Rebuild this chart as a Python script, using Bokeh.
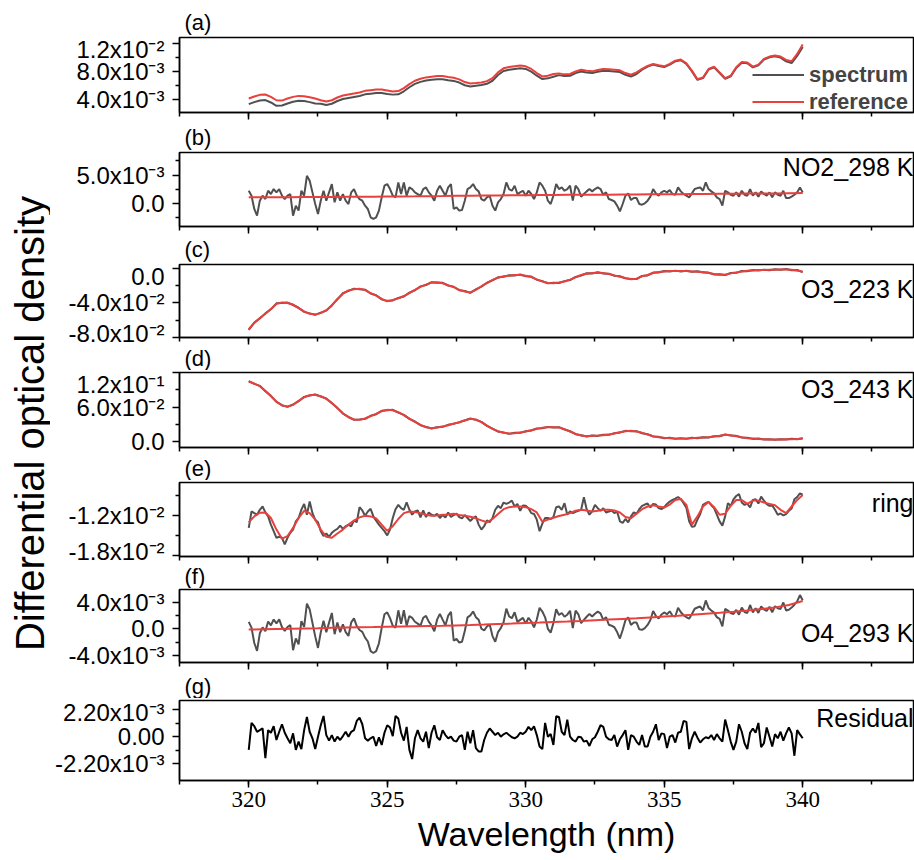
import numpy as np
from bokeh.plotting import figure
from bokeh.layouts import row, column
from bokeh.models import (Range1d, FixedTicker, SingleIntervalTicker,
                          CustomJSTickFormatter, Label)
from bokeh.core.properties import value
from bokeh.embed import file_html
from bokeh.resources import INLINE

# ---------------- wavelength grids (nm) ----------------
wl_fine = [
    320.0, 320.1, 320.2, 320.3, 320.4, 320.5, 320.6, 320.7, 320.8, 320.9,
    321.0, 321.1, 321.2, 321.3, 321.4, 321.5, 321.6, 321.7, 321.8, 321.9,
    322.0, 322.1, 322.2, 322.3, 322.4, 322.5, 322.6, 322.7, 322.8, 322.9,
    323.0, 323.1, 323.2, 323.3, 323.4, 323.5, 323.6, 323.7, 323.8, 323.9,
    324.0, 324.1, 324.2, 324.3, 324.4, 324.5, 324.6, 324.7, 324.8, 324.9,
    325.0, 325.1, 325.2, 325.3, 325.4, 325.5, 325.6, 325.7, 325.8, 325.9,
    326.0, 326.1, 326.2, 326.3, 326.4, 326.5, 326.6, 326.7, 326.8, 326.9,
    327.0, 327.1, 327.2, 327.3, 327.4, 327.5, 327.6, 327.7, 327.8, 327.9,
    328.0, 328.1, 328.2, 328.3, 328.4, 328.5, 328.6, 328.7, 328.8, 328.9,
    329.0, 329.1, 329.2, 329.3, 329.4, 329.5, 329.6, 329.7, 329.8, 329.9,
    330.0, 330.1, 330.2, 330.3, 330.4, 330.5, 330.6, 330.7, 330.8, 330.9,
    331.0, 331.1, 331.2, 331.3, 331.4, 331.5, 331.6, 331.7, 331.8, 331.9,
    332.0, 332.1, 332.2, 332.3, 332.4, 332.5, 332.6, 332.7, 332.8, 332.9,
    333.0, 333.1, 333.2, 333.3, 333.4, 333.5, 333.6, 333.7, 333.8, 333.9,
    334.0, 334.1, 334.2, 334.3, 334.4, 334.5, 334.6, 334.7, 334.8, 334.9,
    335.0, 335.1, 335.2, 335.3, 335.4, 335.5, 335.6, 335.7, 335.8, 335.9,
    336.0, 336.1, 336.2, 336.3, 336.4, 336.5, 336.6, 336.7, 336.8, 336.9,
    337.0, 337.1, 337.2, 337.3, 337.4, 337.5, 337.6, 337.7, 337.8, 337.9,
    338.0, 338.1, 338.2, 338.3, 338.4, 338.5, 338.6, 338.7, 338.8, 338.9,
    339.0, 339.1, 339.2, 339.3, 339.4, 339.5, 339.6, 339.7, 339.8, 339.9,
    340.0]

wl_coarse = [
    320.0, 320.2, 320.4, 320.6, 320.8, 321.0, 321.2, 321.4, 321.6, 321.8,
    322.0, 322.2, 322.4, 322.6, 322.8, 323.0, 323.2, 323.4, 323.6, 323.8,
    324.0, 324.2, 324.4, 324.6, 324.8, 325.0, 325.2, 325.4, 325.6, 325.8,
    326.0, 326.2, 326.4, 326.6, 326.8, 327.0, 327.2, 327.4, 327.6, 327.8,
    328.0, 328.2, 328.4, 328.6, 328.8, 329.0, 329.2, 329.4, 329.6, 329.8,
    330.0, 330.2, 330.4, 330.6, 330.8, 331.0, 331.2, 331.4, 331.6, 331.8,
    332.0, 332.2, 332.4, 332.6, 332.8, 333.0, 333.2, 333.4, 333.6, 333.8,
    334.0, 334.2, 334.4, 334.6, 334.8, 335.0, 335.2, 335.4, 335.6, 335.8,
    336.0, 336.2, 336.4, 336.6, 336.8, 337.0, 337.2, 337.4, 337.6, 337.8,
    338.0, 338.2, 338.4, 338.6, 338.8, 339.0, 339.2, 339.4, 339.6, 339.8,
    340.0]

wl_half = [
    320.0, 320.5, 321.0, 321.5, 322.0, 322.5, 323.0, 323.5, 324.0, 324.5,
    325.0, 325.5, 326.0, 326.5, 327.0, 327.5, 328.0, 328.5, 329.0, 329.5,
    330.0, 330.5, 331.0, 331.5, 332.0, 332.5, 333.0, 333.5, 334.0, 334.5,
    335.0, 335.5, 336.0, 336.5, 337.0, 337.5, 338.0, 338.5, 339.0, 339.5,
    340.0]

# ---------------- (a) spectrum / reference ----------------
a_spectrum = [
    3.39e-3, 3.68e-3, 3.92e-3, 3.97e-3, 3.63e-3, 3.15e-3, 3.20e-3, 3.49e-3, 3.73e-3, 3.87e-3,
    3.83e-3, 3.68e-3, 3.49e-3, 3.45e-3, 3.26e-3, 3.45e-3, 3.84e-3, 4.12e-3, 4.27e-3, 4.41e-3,
    4.55e-3, 4.79e-3, 4.89e-3, 4.98e-3, 4.98e-3, 4.84e-3, 4.75e-3, 4.80e-3, 5.23e-3, 5.80e-3,
    6.28e-3, 6.57e-3, 6.76e-3, 6.86e-3, 6.95e-3, 6.95e-3, 6.81e-3, 6.71e-3, 6.47e-3, 6.09e-3,
    5.90e-3, 6.02e-3, 6.11e-3, 6.30e-3, 6.73e-3, 7.55e-3, 8.12e-3, 8.31e-3, 8.41e-3, 8.51e-3,
    8.41e-3, 8.03e-3, 7.45e-3, 6.97e-3, 7.07e-3, 7.31e-3, 7.53e-3, 7.39e-3, 7.44e-3, 7.82e-3,
    8.06e-3, 7.92e-3, 7.82e-3, 8.01e-3, 8.16e-3, 8.11e-3, 8.06e-3, 7.97e-3, 7.58e-3, 7.34e-3,
    7.68e-3, 8.31e-3, 8.74e-3, 9.03e-3, 8.83e-3, 8.69e-3, 9.03e-3, 9.50e-3, 9.65e-3, 9.12e-3,
    8.07e-3, 6.85e-3, 7.10e-3, 8.31e-3, 8.64e-3, 7.83e-3, 7.01e-3, 7.35e-3, 8.55e-3, 9.31e-3,
    9.22e-3, 8.64e-3, 8.93e-3, 9.74e-3, 10.08e-3, 10.22e-3, 10.03e-3, 9.50e-3, 9.26e-3, 10.26e-3,
    11.55e-3]
a_reference = [
    4.19e-3, 4.48e-3, 4.72e-3, 4.77e-3, 4.43e-3, 3.95e-3, 3.90e-3, 4.19e-3, 4.43e-3, 4.57e-3,
    4.53e-3, 4.38e-3, 4.19e-3, 3.95e-3, 3.76e-3, 3.95e-3, 4.34e-3, 4.62e-3, 4.77e-3, 4.91e-3,
    5.05e-3, 5.29e-3, 5.39e-3, 5.48e-3, 5.48e-3, 5.34e-3, 5.20e-3, 5.25e-3, 5.68e-3, 6.25e-3,
    6.73e-3, 7.02e-3, 7.21e-3, 7.31e-3, 7.40e-3, 7.40e-3, 7.26e-3, 7.16e-3, 6.92e-3, 6.54e-3,
    6.35e-3, 6.40e-3, 6.49e-3, 6.68e-3, 7.11e-3, 7.93e-3, 8.50e-3, 8.69e-3, 8.79e-3, 8.89e-3,
    8.79e-3, 8.41e-3, 7.83e-3, 7.35e-3, 7.45e-3, 7.69e-3, 7.78e-3, 7.64e-3, 7.69e-3, 8.07e-3,
    8.31e-3, 8.17e-3, 8.07e-3, 8.26e-3, 8.41e-3, 8.36e-3, 8.31e-3, 8.22e-3, 7.83e-3, 7.59e-3,
    7.93e-3, 8.41e-3, 8.84e-3, 9.13e-3, 8.93e-3, 8.79e-3, 9.13e-3, 9.60e-3, 9.75e-3, 9.22e-3,
    8.17e-3, 6.95e-3, 7.20e-3, 8.41e-3, 8.74e-3, 7.93e-3, 7.11e-3, 7.45e-3, 8.65e-3, 9.41e-3,
    9.32e-3, 8.74e-3, 9.03e-3, 9.84e-3, 10.18e-3, 10.32e-3, 10.18e-3, 9.70e-3, 9.51e-3, 10.56e-3,
    11.90e-3]

# ---------------- (b) NO2_298 K ----------------
no2_spectrum = [
    2.23e-3, 1.35e-3, -1.00e-3, -2.18e-3, 0.47e-3, 1.35e-3, 0.76e-3, 2.23e-3, 1.65e-3, 2.53e-3,
    1.94e-3, 2.53e-3, 1.35e-3, 0.76e-3, 1.35e-3, 1.65e-3, -2.18e-3, -0.41e-3, -1.29e-3, 2.23e-3,
    1.35e-3, 4.88e-3, 4.00e-3, 1.94e-3, -0.12e-3, -1.88e-3, 0.47e-3, 2.23e-3, 0.47e-3, 1.94e-3,
    3.41e-3, 0.18e-3, 1.94e-3, 0.47e-3, 1.65e-3, 0.47e-3, -0.12e-3, 1.94e-3, 2.53e-3, 1.35e-3,
    0.76e-3, 0.47e-3, -0.41e-3, -1.00e-3, -2.47e-3, -2.76e-3, -2.47e-3, -1.29e-3, 1.06e-3, 3.12e-3,
    3.41e-3, 2.53e-3, 1.35e-3, 1.06e-3, 3.70e-3, 1.65e-3, 3.70e-3, 1.35e-3, 2.82e-3, 2.53e-3,
    1.94e-3, 1.65e-3, 1.35e-3, 2.53e-3, 2.82e-3, 1.94e-3, 1.35e-3, 0.47e-3, 2.23e-3, 3.12e-3,
    2.23e-3, 1.35e-3, 2.82e-3, 3.41e-3, -1.00e-3, -0.71e-3, -1.29e-3, -1.18e-3, 0.47e-3, 2.53e-3,
    2.82e-3, 3.41e-3, 2.53e-3, 2.12e-3, 0.76e-3, 0.47e-3, 1.06e-3, 1.35e-3, -0.41e-3, -1.29e-3,
    0.18e-3, 0.76e-3, 1.65e-3, 3.70e-3, 2.53e-3, 2.23e-3, 3.12e-3, 1.65e-3, 1.94e-3, 2.23e-3,
    1.35e-3, 2.23e-3, 1.65e-3, 0.76e-3, 1.94e-3, 3.70e-3, 3.12e-3, 2.23e-3, 0.47e-3, -0.12e-3,
    1.35e-3, 3.41e-3, 2.53e-3, 2.82e-3, 2.23e-3, 2.53e-3, 3.12e-3, 0.47e-3, 3.12e-3, 2.53e-3,
    1.18e-3, 1.65e-3, 2.12e-3, 2.53e-3, 2.12e-3, 2.53e-3, 2.82e-3, 2.53e-3, 1.53e-3, 1.94e-3,
    0.76e-3, 0.59e-3, 0.35e-3, -0.41e-3, -1.41e-3, -0.12e-3, 1.35e-3, 1.76e-3, 0.59e-3, 0.94e-3,
    0.94e-3, -0.12e-3, -0.24e-3, 0.00e-3, 0.47e-3, 1.18e-3, 2.53e-3, 1.76e-3, 1.35e-3, 1.94e-3,
    2.23e-3, 1.94e-3, 2.35e-3, 1.65e-3, 1.53e-3, 2.82e-3, 2.12e-3, 1.65e-3, 1.35e-3, 1.06e-3,
    1.76e-3, 2.53e-3, 2.70e-3, 2.82e-3, 2.23e-3, 3.70e-3, 2.53e-3, 2.12e-3, 1.76e-3, 1.06e-3,
    0.76e-3, -0.41e-3, 2.23e-3, 1.94e-3, 1.53e-3, 1.35e-3, 1.94e-3, 1.18e-3, 2.23e-3, 1.53e-3,
    1.35e-3, 2.53e-3, 1.35e-3, 1.94e-3, 1.18e-3, 2.12e-3, 1.65e-3, 1.35e-3, 1.94e-3, 1.06e-3,
    1.94e-3, 1.53e-3, 1.35e-3, 2.23e-3, 0.94e-3, 0.94e-3, 1.18e-3, 1.53e-3, 1.94e-3, 2.82e-3,
    1.94e-3]
no2_fit = [
    1.06e-3, 1.07e-3, 1.08e-3, 1.10e-3, 1.11e-3, 1.12e-3, 1.14e-3, 1.15e-3, 1.17e-3, 1.18e-3,
    1.20e-3, 1.22e-3, 1.24e-3, 1.27e-3, 1.30e-3, 1.34e-3, 1.36e-3, 1.38e-3, 1.40e-3, 1.42e-3,
    1.44e-3, 1.46e-3, 1.48e-3, 1.50e-3, 1.51e-3, 1.53e-3, 1.54e-3, 1.56e-3, 1.57e-3, 1.59e-3,
    1.60e-3, 1.62e-3, 1.64e-3, 1.66e-3, 1.68e-3, 1.70e-3, 1.72e-3, 1.74e-3, 1.76e-3, 1.79e-3,
    1.82e-3]

# ---------------- (c) O3_223 K ----------------
o3_223_spectrum = [
    -0.0712, -0.0628, -0.0580, -0.0521, -0.0474, -0.0405, -0.0401, -0.0396, -0.0424, -0.0456,
    -0.0504, -0.0521, -0.0538, -0.0513, -0.0489, -0.0426, -0.0359, -0.0288, -0.0260, -0.0236,
    -0.0241, -0.0246, -0.0291, -0.0311, -0.0359, -0.0376, -0.0371, -0.0342, -0.0325, -0.0281,
    -0.0253, -0.0208, -0.0192, -0.0159, -0.0165, -0.0166, -0.0199, -0.0212, -0.0253, -0.0262,
    -0.0283, -0.0243, -0.0211, -0.0166, -0.0138, -0.0102, -0.0096, -0.0079, -0.0081, -0.0071,
    -0.0089, -0.0094, -0.0131, -0.0147, -0.0173, -0.0166, -0.0169, -0.0147, -0.0135, -0.0098,
    -0.0081, -0.0056, -0.0058, -0.0045, -0.0058, -0.0060, -0.0085, -0.0090, -0.0115, -0.0121,
    -0.0123, -0.0086, -0.0081, -0.0048, -0.0047, -0.0029, -0.0035, -0.0025, -0.0035, -0.0026,
    -0.0039, -0.0033, -0.0047, -0.0048, -0.0070, -0.0067, -0.0077, -0.0052, -0.0051, -0.0029,
    -0.0032, -0.0018, -0.0024, -0.0014, -0.0020, -0.0010, -0.0016, -0.0006, -0.0020, -0.0018,
    -0.0043]
o3_223_fit = [
    -0.0705, -0.0632, -0.0575, -0.0526, -0.0469, -0.0411, -0.0396, -0.0400, -0.0419, -0.0461,
    -0.0499, -0.0526, -0.0533, -0.0518, -0.0484, -0.0431, -0.0354, -0.0293, -0.0255, -0.0240,
    -0.0236, -0.0251, -0.0286, -0.0316, -0.0354, -0.0381, -0.0366, -0.0347, -0.0320, -0.0286,
    -0.0248, -0.0213, -0.0187, -0.0164, -0.0160, -0.0171, -0.0194, -0.0217, -0.0248, -0.0267,
    -0.0278, -0.0248, -0.0206, -0.0171, -0.0133, -0.0107, -0.0091, -0.0084, -0.0076, -0.0076,
    -0.0084, -0.0099, -0.0126, -0.0152, -0.0168, -0.0171, -0.0164, -0.0152, -0.0130, -0.0103,
    -0.0076, -0.0061, -0.0053, -0.0050, -0.0053, -0.0065, -0.0080, -0.0095, -0.0110, -0.0126,
    -0.0118, -0.0091, -0.0076, -0.0053, -0.0042, -0.0034, -0.0030, -0.0030, -0.0030, -0.0030,
    -0.0034, -0.0038, -0.0042, -0.0053, -0.0065, -0.0072, -0.0072, -0.0057, -0.0046, -0.0034,
    -0.0027, -0.0023, -0.0019, -0.0019, -0.0015, -0.0015, -0.0011, -0.0011, -0.0015, -0.0023,
    -0.0038]

# ---------------- (d) O3_243 K ----------------
o3_243_spectrum = [
    0.1051, 0.1003, 0.0969, 0.0876, 0.0795, 0.0690, 0.0632, 0.0603, 0.0644, 0.0702,
    0.0777, 0.0800, 0.0818, 0.0783, 0.0748, 0.0667, 0.0586, 0.0487, 0.0429, 0.0377,
    0.0383, 0.0394, 0.0447, 0.0475, 0.0534, 0.0545, 0.0551, 0.0504, 0.0464, 0.0394,
    0.0348, 0.0284, 0.0255, 0.0226, 0.0250, 0.0255, 0.0290, 0.0307, 0.0337, 0.0365,
    0.0400, 0.0377, 0.0342, 0.0272, 0.0226, 0.0174, 0.0157, 0.0133, 0.0151, 0.0151,
    0.0180, 0.0191, 0.0226, 0.0232, 0.0255, 0.0243, 0.0250, 0.0209, 0.0180, 0.0127,
    0.0110, 0.0087, 0.0105, 0.0098, 0.0116, 0.0116, 0.0145, 0.0156, 0.0186, 0.0180,
    0.0180, 0.0145, 0.0128, 0.0087, 0.0081, 0.0058, 0.0064, 0.0046, 0.0058, 0.0046,
    0.0064, 0.0058, 0.0076, 0.0069, 0.0093, 0.0093, 0.0122, 0.0104, 0.0099, 0.0069,
    0.0064, 0.0046, 0.0052, 0.0035, 0.0041, 0.0029, 0.0041, 0.0035, 0.0047, 0.0040,
    0.0058]
o3_243_fit = [
    0.1044, 0.1009, 0.0963, 0.0882, 0.0789, 0.0696, 0.0626, 0.0609, 0.0638, 0.0708,
    0.0771, 0.0806, 0.0812, 0.0789, 0.0742, 0.0673, 0.0580, 0.0493, 0.0423, 0.0383,
    0.0377, 0.0400, 0.0441, 0.0481, 0.0528, 0.0551, 0.0545, 0.0510, 0.0458, 0.0400,
    0.0342, 0.0290, 0.0249, 0.0232, 0.0244, 0.0261, 0.0284, 0.0313, 0.0331, 0.0371,
    0.0394, 0.0383, 0.0336, 0.0278, 0.0220, 0.0180, 0.0151, 0.0139, 0.0145, 0.0157,
    0.0174, 0.0197, 0.0220, 0.0238, 0.0249, 0.0249, 0.0244, 0.0215, 0.0174, 0.0133,
    0.0104, 0.0093, 0.0099, 0.0104, 0.0110, 0.0122, 0.0139, 0.0162, 0.0180, 0.0186,
    0.0174, 0.0151, 0.0122, 0.0093, 0.0075, 0.0064, 0.0058, 0.0052, 0.0052, 0.0052,
    0.0058, 0.0064, 0.0070, 0.0075, 0.0087, 0.0099, 0.0116, 0.0110, 0.0093, 0.0075,
    0.0058, 0.0052, 0.0046, 0.0041, 0.0035, 0.0035, 0.0035, 0.0041, 0.0041, 0.0046,
    0.0052]

# ---------------- (e) ring ----------------
ring_spectrum = [
    -13.82e-3, -11.36e-3, -11.61e-3, -11.85e-3, -11.11e-3, -10.62e-3, -11.51e-3, -12.10e-3, -13.33e-3, -14.31e-3,
    -15.30e-3, -15.15e-3, -15.30e-3, -16.28e-3, -15.30e-3, -14.56e-3, -14.07e-3, -12.84e-3, -12.34e-3, -11.11e-3,
    -10.23e-3, -11.85e-3, -9.88e-3, -11.61e-3, -12.59e-3, -12.98e-3, -14.31e-3, -15.05e-3, -14.66e-3, -15.15e-3,
    -14.56e-3, -14.21e-3, -13.97e-3, -13.48e-3, -13.97e-3, -13.57e-3, -13.38e-3, -13.57e-3, -12.69e-3, -12.98e-3,
    -10.72e-3, -11.21e-3, -12.00e-3, -11.36e-3, -10.97e-3, -12.10e-3, -12.74e-3, -13.33e-3, -13.82e-3, -14.31e-3,
    -14.95e-3, -14.07e-3, -12.34e-3, -11.02e-3, -10.38e-3, -10.87e-3, -11.11e-3, -9.98e-3, -11.11e-3, -11.85e-3,
    -11.36e-3, -11.21e-3, -12.25e-3, -11.21e-3, -12.20e-3, -11.51e-3, -11.85e-3, -12.00e-3, -11.70e-3, -12.34e-3,
    -11.90e-3, -12.25e-3, -11.51e-3, -12.20e-3, -11.90e-3, -11.70e-3, -12.20e-3, -12.39e-3, -11.90e-3, -12.34e-3,
    -12.79e-3, -12.34e-3, -12.10e-3, -13.33e-3, -14.07e-3, -13.57e-3, -12.69e-3, -12.98e-3, -12.34e-3, -11.11e-3,
    -10.52e-3, -10.87e-3, -10.03e-3, -10.23e-3, -10.03e-3, -9.74e-3, -10.62e-3, -10.23e-3, -11.26e-3, -10.48e-3,
    -10.52e-3, -10.87e-3, -11.61e-3, -11.75e-3, -12.59e-3, -14.31e-3, -13.18e-3, -12.34e-3, -12.34e-3, -12.49e-3,
    -12.20e-3, -10.72e-3, -10.62e-3, -11.11e-3, -10.13e-3, -11.85e-3, -11.36e-3, -11.61e-3, -11.41e-3, -11.26e-3,
    -11.11e-3, -9.25e-3, -11.02e-3, -11.85e-3, -11.36e-3, -10.38e-3, -10.87e-3, -11.26e-3, -10.87e-3, -11.51e-3,
    -11.36e-3, -11.21e-3, -11.61e-3, -11.41e-3, -12.84e-3, -13.08e-3, -12.49e-3, -12.98e-3, -12.10e-3, -11.51e-3,
    -11.70e-3, -11.02e-3, -10.52e-3, -10.33e-3, -10.18e-3, -10.77e-3, -10.23e-3, -10.33e-3, -10.87e-3, -11.02e-3,
    -10.72e-3, -10.23e-3, -9.88e-3, -9.64e-3, -9.44e-3, -9.20e-3, -9.54e-3, -10.13e-3, -10.82e-3, -12.84e-3,
    -13.67e-3, -13.57e-3, -12.59e-3, -11.75e-3, -10.38e-3, -10.13e-3, -9.93e-3, -10.43e-3, -10.87e-3, -11.85e-3,
    -12.84e-3, -13.48e-3, -12.10e-3, -10.13e-3, -10.52e-3, -9.54e-3, -9.05e-3, -8.75e-3, -10.03e-3, -10.38e-3,
    -10.18e-3, -10.77e-3, -9.64e-3, -9.54e-3, -10.18e-3, -9.15e-3, -9.74e-3, -10.28e-3, -10.52e-3, -10.48e-3,
    -11.11e-3, -11.85e-3, -11.66e-3, -11.95e-3, -11.75e-3, -11.26e-3, -10.92e-3, -9.54e-3, -9.20e-3, -8.66e-3,
    -8.85e-3]
ring_fit = [
    -12.98e-3, -12.10e-3, -11.56e-3, -11.51e-3, -12.34e-3, -14.07e-3, -15.44e-3, -15.05e-3, -13.82e-3, -12.34e-3,
    -11.26e-3, -11.61e-3, -12.59e-3, -14.07e-3, -15.15e-3, -15.30e-3, -14.66e-3, -14.07e-3, -13.33e-3, -12.74e-3,
    -12.25e-3, -12.00e-3, -12.10e-3, -12.39e-3, -13.33e-3, -14.26e-3, -13.57e-3, -12.49e-3, -11.61e-3, -11.36e-3,
    -11.46e-3, -11.61e-3, -11.85e-3, -12.00e-3, -11.95e-3, -11.85e-3, -11.80e-3, -11.70e-3, -11.90e-3, -12.00e-3,
    -12.15e-3, -12.39e-3, -12.69e-3, -12.98e-3, -12.49e-3, -11.75e-3, -11.02e-3, -10.72e-3, -10.62e-3, -10.62e-3,
    -10.72e-3, -11.02e-3, -11.51e-3, -12.89e-3, -12.59e-3, -12.30e-3, -12.05e-3, -11.85e-3, -11.61e-3, -11.26e-3,
    -11.11e-3, -11.21e-3, -11.36e-3, -11.26e-3, -11.11e-3, -11.11e-3, -11.21e-3, -11.51e-3, -12.20e-3, -12.39e-3,
    -11.70e-3, -11.02e-3, -10.62e-3, -10.43e-3, -10.62e-3, -10.77e-3, -10.33e-3, -9.64e-3, -9.49e-3, -10.38e-3,
    -13.33e-3, -12.10e-3, -10.62e-3, -9.93e-3, -10.72e-3, -11.85e-3, -11.70e-3, -10.52e-3, -9.64e-3, -9.64e-3,
    -10.23e-3, -9.74e-3, -9.74e-3, -10.03e-3, -10.23e-3, -10.43e-3, -11.11e-3, -11.61e-3, -10.62e-3, -9.64e-3,
    -8.90e-3]

# ---------------- (f) O4_293 K ----------------
o4_spectrum = [
    1.07e-3, 0.20e-3, -2.14e-3, -3.32e-3, -0.66e-3, 0.23e-3, -0.35e-3, 1.13e-3, 0.55e-3, 1.44e-3,
    0.86e-3, 1.46e-3, 0.28e-3, -0.30e-3, 0.29e-3, 0.60e-3, -3.23e-3, -1.45e-3, -2.33e-3, 1.20e-3,
    0.32e-3, 3.86e-3, 2.98e-3, 0.93e-3, -1.13e-3, -2.88e-3, -0.52e-3, 1.24e-3, -0.51e-3, 0.96e-3,
    2.44e-3, -0.79e-3, 0.98e-3, -0.49e-3, 0.70e-3, -0.48e-3, -1.06e-3, 1.00e-3, 1.60e-3, 0.42e-3,
    -0.16e-3, -0.45e-3, -1.32e-3, -1.91e-3, -3.37e-3, -3.66e-3, -3.37e-3, -2.18e-3, 0.17e-3, 2.24e-3,
    2.53e-3, 1.65e-3, 0.48e-3, 0.19e-3, 2.84e-3, 0.79e-3, 2.84e-3, 0.50e-3, 1.97e-3, 1.69e-3,
    1.10e-3, 0.81e-3, 0.51e-3, 1.70e-3, 1.99e-3, 1.11e-3, 0.52e-3, -0.35e-3, 1.41e-3, 2.30e-3,
    1.41e-3, 0.54e-3, 2.02e-3, 2.61e-3, -1.79e-3, -1.50e-3, -2.07e-3, -1.95e-3, -0.30e-3, 1.77e-3,
    2.06e-3, 2.66e-3, 1.79e-3, 1.39e-3, 0.04e-3, -0.24e-3, 0.37e-3, 0.67e-3, -1.08e-3, -1.95e-3,
    -0.47e-3, 0.12e-3, 1.02e-3, 3.08e-3, 1.92e-3, 1.63e-3, 2.54e-3, 1.08e-3, 1.38e-3, 1.68e-3,
    0.81e-3, 1.70e-3, 1.13e-3, 0.25e-3, 1.44e-3, 3.21e-3, 2.65e-3, 1.77e-3, 0.02e-3, -0.56e-3,
    0.92e-3, 2.99e-3, 2.13e-3, 2.43e-3, 1.86e-3, 2.17e-3, 2.77e-3, 0.14e-3, 2.80e-3, 2.23e-3,
    0.89e-3, 1.38e-3, 1.86e-3, 2.29e-3, 1.90e-3, 2.32e-3, 2.63e-3, 2.36e-3, 1.38e-3, 1.80e-3,
    0.64e-3, 0.49e-3, 0.26e-3, -0.48e-3, -1.46e-3, -0.16e-3, 1.33e-3, 1.76e-3, 0.61e-3, 0.97e-3,
    0.99e-3, -0.05e-3, -0.14e-3, 0.12e-3, 0.61e-3, 1.35e-3, 2.72e-3, 1.97e-3, 1.59e-3, 2.20e-3,
    2.51e-3, 2.24e-3, 2.68e-3, 2.00e-3, 1.90e-3, 3.22e-3, 2.54e-3, 2.09e-3, 1.81e-3, 1.55e-3,
    2.27e-3, 3.07e-3, 3.26e-3, 3.41e-3, 2.84e-3, 4.34e-3, 3.20e-3, 2.81e-3, 2.48e-3, 1.80e-3,
    1.53e-3, 0.39e-3, 3.06e-3, 2.80e-3, 2.42e-3, 2.28e-3, 2.90e-3, 2.17e-3, 3.25e-3, 2.58e-3,
    2.43e-3, 3.65e-3, 2.52e-3, 3.15e-3, 2.44e-3, 3.42e-3, 2.99e-3, 2.74e-3, 3.37e-3, 2.54e-3,
    3.46e-3, 3.14e-3, 3.05e-3, 4.02e-3, 2.82e-3, 2.92e-3, 3.25e-3, 3.69e-3, 4.19e-3, 5.16e-3,
    4.37e-3]
o4_fit = [
    -0.10e-3, -0.05e-3, 0.00e-3, 0.04e-3, 0.08e-3, 0.12e-3, 0.17e-3, 0.21e-3, 0.25e-3, 0.28e-3,
    0.32e-3, 0.36e-3, 0.40e-3, 0.44e-3, 0.48e-3, 0.54e-3, 0.60e-3, 0.67e-3, 0.75e-3, 0.82e-3,
    0.90e-3, 0.97e-3, 1.05e-3, 1.13e-3, 1.22e-3, 1.32e-3, 1.42e-3, 1.52e-3, 1.62e-3, 1.75e-3,
    1.88e-3, 2.01e-3, 2.15e-3, 2.30e-3, 2.45e-3, 2.62e-3, 2.80e-3, 3.02e-3, 3.28e-3, 3.65e-3,
    4.25e-3]

# ---------------- (g) Residual ----------------
residual = [
    -1.07e-3, 1.12e-3, 0.85e-3, 0.40e-3, 0.53e-3, 0.67e-3, -1.74e-3, 0.53e-3, 0.32e-3, 0.85e-3,
    -0.27e-3, 0.40e-3, 1.01e-3, 0.32e-3, -0.13e-3, -0.53e-3, 0.27e-3, -1.07e-3, -0.40e-3, -1.01e-3,
    0.53e-3, 1.60e-3, 0.40e-3, -0.13e-3, -1.01e-3, 0.00e-3, 0.93e-3, 1.68e-3, 0.13e-3, -0.32e-3,
    0.13e-3, -0.40e-3, 0.00e-3, -0.27e-3, 0.05e-3, 0.40e-3, 0.00e-3, 0.40e-3, 0.53e-3, 1.28e-3,
    1.55e-3, 1.01e-3, -0.13e-3, -0.32e-3, -0.13e-3, 0.00e-3, -0.75e-3, -0.05e-3, -0.67e-3, 0.32e-3,
    0.93e-3, 0.75e-3, 0.05e-3, 1.68e-3, 1.47e-3, 0.32e-3, -0.32e-3, 0.80e-3, -1.07e-3, -1.82e-3,
    -0.13e-3, 0.53e-3, -0.13e-3, -0.40e-3, 0.40e-3, -0.93e-3, 0.32e-3, 0.93e-3, -0.05e-3, -0.27e-3,
    0.53e-3, 0.13e-3, -0.13e-3, 0.00e-3, -0.32e-3, -0.40e-3, 0.00e-3, 0.13e-3, -1.07e-3, 0.40e-3,
    -0.53e-3, 0.53e-3, -0.93e-3, -1.20e-3, -1.20e-3, -0.27e-3, 0.32e-3, 0.67e-3, 0.40e-3, 0.13e-3,
    0.32e-3, 0.00e-3, 0.19e-3, 0.32e-3, 0.13e-3, -0.05e-3, -0.13e-3, 0.00e-3, 0.32e-3, 0.21e-3,
    0.40e-3, 0.80e-3, 0.53e-3, 0.85e-3, 0.13e-3, -0.80e-3, -1.01e-3, 1.12e-3, 0.00e-3, 0.21e-3,
    -0.67e-3, 1.66e-3, 1.60e-3, 0.40e-3, 0.13e-3, 1.39e-3, 0.00e-3, -0.27e-3, -0.40e-3, 0.00e-3,
    -0.05e-3, -0.40e-3, -0.32e-3, -0.75e-3, -0.21e-3, -0.05e-3, 0.40e-3, 0.93e-3, 0.80e-3, 0.00e-3,
    -0.21e-3, -0.27e-3, 0.13e-3, -0.80e-3, -0.21e-3, 0.13e-3, 0.53e-3, -1.07e-3, 0.13e-3, 0.00e-3,
    -0.40e-3, -0.67e-3, 0.13e-3, -0.80e-3, -0.80e-3, 0.00e-3, 0.40e-3, 1.01e-3, -0.27e-3, 0.27e-3,
    0.21e-3, -0.93e-3, 0.00e-3, 0.13e-3, -0.48e-3, 0.32e-3, 0.40e-3, 1.28e-3, 1.20e-3, -1.01e-3,
    -0.13e-3, 0.40e-3, -0.08e-3, -0.48e-3, -0.21e-3, -0.05e-3, -0.13e-3, 0.13e-3, -0.27e-3, 0.21e-3,
    -0.13e-3, -0.40e-3, 1.39e-3, 0.53e-3, -0.40e-3, -1.07e-3, -0.40e-3, 1.01e-3, 0.40e-3, -0.53e-3,
    -1.01e-3, 0.32e-3, 0.67e-3, 0.32e-3, 1.12e-3, -0.85e-3, -0.53e-3, 0.75e-3, 0.00e-3, -0.80e-3,
    0.21e-3, -0.13e-3, 0.40e-3, -0.32e-3, 0.27e-3, 0.75e-3, 0.27e-3, -1.55e-3, 0.53e-3, 0.19e-3,
    -0.13e-3]

# ---------------- axis tick values and labels ----------------
a_ticks = [0.004, 0.008, 0.012]
a_minor = [0.002, 0.006, 0.010]
a_labels = ["4.0x10⁻³", "8.0x10⁻³", "1.2x10⁻²"]
b_ticks = [0.0, 0.005]
b_minor = [-0.0025, 0.0025, 0.0075]
b_labels = ["0.0", "5.0x10⁻³"]
c_ticks = [-0.08, -0.04, 0.0]
c_minor = [-0.06, -0.02]
c_labels = ["-8.0x10⁻²", "-4.0x10⁻²", "0.0"]
d_ticks = [0.0, 0.06, 0.12]
d_minor = [0.03, 0.09]
d_labels = ["0.0", "6.0x10⁻²", "1.2x10⁻¹"]
e_ticks = [-0.018, -0.012]
e_minor = [-0.015, -0.009]
e_labels = ["-1.8x10⁻²", "-1.2x10⁻²"]
f_ticks = [-0.004, 0.0, 0.004]
f_minor = [-0.002, 0.002]
f_labels = ["-4.0x10⁻³", "0.0", "4.0x10⁻³"]
g_ticks = [-0.0022, 0.0, 0.0022]
g_minor = [-0.0011, 0.0011]
g_labels = ["-2.20x10⁻³", "0.00", "2.20x10⁻³"]

# ---------------- styling ----------------
GRAY = "#505050"
RED = "#e8403c"
SANS = "Liberation Sans"
SERIF = "Liberation Serif"
PANEL_W = 864
LEFT = 129

x_range = Range1d(317.5, 344.0)

FMT_CODE = """
for (let i = 0; i < vals.length; i++) {
  if (Math.abs(tick - vals[i]) < 1e-9) { return labs[i]; }
}
return "";
"""


def letter_strip(letter, h, mid):
    """thin strip above a panel carrying its (a)...(g) letter;
    its frame is aligned with the panel frames by the column layout"""
    s = figure(width=PANEL_W, height=h, x_range=x_range,
               y_range=Range1d(0, h), output_backend="svg",
               toolbar_location=None, tools="",
               x_axis_location=None, y_axis_location=None,
               min_border_left=LEFT, min_border_right=1,
               min_border_top=0, min_border_bottom=0)
    s.xgrid.visible = False
    s.ygrid.visible = False
    s.outline_line_color = None
    s.background_fill_color = "white"
    s.border_fill_color = "white"
    s.text(x=[317.5], y=[mid], x_offset=5, text=[letter],
           text_font=value(SANS), text_font_size="22px", text_color="black",
           text_align="left", text_baseline="middle")
    return s


def make_panel(yr, ticks, minor, labels, height, top, bottom, tag, tag_y,
               show_x=False):
    p = figure(width=PANEL_W, height=height, x_range=x_range,
               y_range=Range1d(*yr), output_backend="svg",
               toolbar_location=None, tools="",
               min_border_left=LEFT, min_border_right=1,
               min_border_top=top, min_border_bottom=bottom)
    p.background_fill_color = "white"
    p.border_fill_color = "white"
    p.xgrid.visible = False
    p.ygrid.visible = False
    p.outline_line_color = "black"
    p.outline_line_width = 1.5

    ya = p.yaxis[0]
    ya.ticker = FixedTicker(ticks=ticks, minor_ticks=minor)
    ya.formatter = CustomJSTickFormatter(args=dict(vals=ticks, labs=labels),
                                         code=FMT_CODE)
    xa = p.xaxis[0]
    xa.ticker = SingleIntervalTicker(interval=5, num_minor_ticks=2)
    for ax in (ya, xa):
        ax.axis_line_color = "black"
        ax.axis_line_width = 1.5
        ax.major_tick_line_color = "black"
        ax.minor_tick_line_color = "black"
        ax.major_tick_line_width = 1.5
        ax.minor_tick_line_width = 1.5
        ax.major_tick_in = 0
        ax.minor_tick_in = 0
        ax.major_tick_out = 7
        ax.minor_tick_out = 4
    ya.major_label_text_font = SANS
    ya.major_label_text_font_size = "24px"
    ya.major_label_text_color = "black"
    ya.major_label_standoff = 8

    if show_x:
        xa.major_label_text_font = SERIF
        xa.major_label_text_font_size = "23px"
        xa.major_label_text_color = "black"
        xa.major_label_standoff = 4
        xa.axis_label = "Wavelength (nm)"
        xa.axis_label_text_font = SANS
        xa.axis_label_text_font_size = "34px"
        xa.axis_label_text_font_style = "normal"
        xa.axis_label_text_color = "black"
        xa.axis_label_standoff = 5
    else:
        # tick marks only: no tick labels drawn on the inner panels
        xa.major_label_text_color = None
        xa.major_label_text_font_size = "1px"
        xa.major_label_standoff = 0

    if tag:
        p.add_layout(Label(x=344.0, y=tag_y, x_offset=0, text=tag,
                           text_font=SANS, text_font_size="25px",
                           text_color="black", text_align="right",
                           text_baseline="middle"))
    return p


# vertical layout: strip heights / panel heights chosen so the frames sit at
# y = 37-112, 152-226, 264-337, 372-447, 482-556, 589-662, 700-780
sa = letter_strip("(a)", 35, 13)
pa = make_panel((0.0022, 0.0129), a_ticks, a_minor, a_labels, 86, 2, 9,
                None, None)
pa.line(wl_coarse, a_spectrum, line_color=GRAY, line_width=2,
        legend_label="spectrum")
pa.line(wl_coarse, a_reference, line_color=RED, line_width=2,
        legend_label="reference")
lg = pa.legend[0]
lg.location = (573, -3)
lg.background_fill_alpha = 0
lg.border_line_color = None
lg.label_text_font = SANS
lg.label_text_font_size = "22px"
lg.label_text_font_style = "bold"
lg.glyph_width = 52
lg.glyph_height = 27
lg.label_height = 27
lg.spacing = 0
lg.padding = 0
lg.margin = 0
lg.label_standoff = 5

sb = letter_strip("(b)", 29, 13)
pb = make_panel((-0.0041, 0.009), b_ticks, b_minor, b_labels, 85, 2, 9,
                "NO2_298 K", 0.0065)
pb.line(wl_fine, no2_spectrum, line_color=GRAY, line_width=2)
pb.line(wl_half, no2_fit, line_color=RED, line_width=2)

sc = letter_strip("(c)", 27, 13)
pc = make_panel((-0.0801, 0.0046), c_ticks, c_minor, c_labels, 84, 2, 9,
                "O3_223 K", -0.0244)
pc.line(wl_coarse, o3_223_spectrum, line_color=GRAY, line_width=2)
pc.line(wl_coarse, o3_223_fit, line_color=RED, line_width=2)

sd = letter_strip("(d)", 24, 12)
pd = make_panel((-0.0104, 0.1201), d_ticks, d_minor, d_labels, 86, 2, 9,
                "O3_243 K", 0.0922)
pd.line(wl_coarse, o3_243_spectrum, line_color=GRAY, line_width=2)
pd.line(wl_coarse, o3_243_fit, line_color=RED, line_width=2)

se = letter_strip("(e)", 24, 12)
pe = make_panel((-0.0181, -0.00703), e_ticks, e_minor, e_labels, 84, 2, 8,
                "ring", -0.0101)
pe.line(wl_fine, ring_spectrum, line_color=GRAY, line_width=2)
pe.line(wl_coarse, ring_fit, line_color=RED, line_width=2)

sf = letter_strip("(f)", 24, 12)
pf = make_panel((-0.0051, 0.006), f_ticks, f_minor, f_labels, 83, 1, 9,
                "O4_293 K", -0.0006)
pf.line(wl_fine, o4_spectrum, line_color=GRAY, line_width=2)
pf.line(wl_half, o4_fit, line_color=RED, line_width=2)

sg = letter_strip("(g)", 27, 12)
pg = make_panel((-0.00356, 0.00294), g_ticks, g_minor, g_labels, 162, 2, 80,
                "Residual", 0.0015, show_x=True)
pg.line(wl_fine, residual, line_color="black", line_width=2)

# left strip carrying the common y-axis title
pl = figure(width=50, height=860, x_range=Range1d(0, 50), y_range=Range1d(0, 860),
            output_backend="svg", toolbar_location=None, tools="",
            x_axis_location=None, y_axis_location=None, min_border=0)
pl.xgrid.visible = False
pl.ygrid.visible = False
pl.outline_line_color = None
pl.text(x=[29], y=[437], text=["Differential optical density"],
        angle=np.pi / 2, text_font=value(SANS), text_font_size="40px",
        text_color="black", text_align="center", text_baseline="middle")

stack = column(sa, pa, sb, pb, sc, pc, sd, pd, se, pe, sf, pf, sg, pg,
               spacing=0)
layout = row(pl, stack, spacing=0)

html = file_html(layout, INLINE, "DOAS fit")
with open("out.html", "w") as fh:
    fh.write(html)
